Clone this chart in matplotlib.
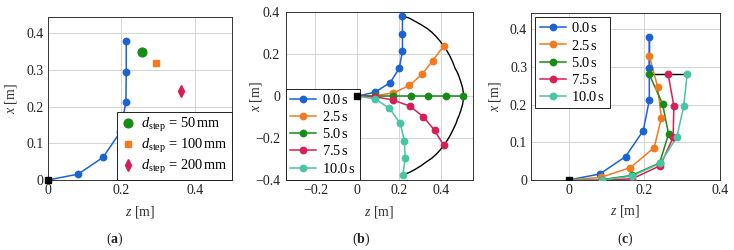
import matplotlib
matplotlib.use("Agg")
import matplotlib.pyplot as plt
from matplotlib.lines import Line2D

plt.rcParams['font.family'] = ['Liberation Serif', 'DejaVu Serif']
plt.rcParams['mathtext.fontset'] = 'custom'
plt.rcParams['mathtext.rm'] = 'Liberation Serif'
plt.rcParams['mathtext.it'] = 'Liberation Serif:italic'
plt.rcParams['mathtext.bf'] = 'Liberation Serif:bold'
plt.rcParams['axes.unicode_minus'] = True

# ---------------- data ----------------
times = ["0.0", "2.5", "5.0", "7.5", "10.0"]
colors = ['#1a62d6', '#f47a1f', '#168c16', '#d81e54', '#46c6a4']

# panel (a): reference curve (0.0 s) and step-size targets
a_z = [0.0, 0.082, 0.150, 0.196, 0.212, 0.213, 0.213]
a_x = [0.0, 0.016, 0.062, 0.130, 0.212, 0.296, 0.380]
step_labels = ["50", "100", "200"]
step_z = [0.257, 0.295, 0.362]
step_x = [0.350, 0.320, 0.243]

# panel (b): joint positions at different times
b_z = [
    [0.0, 0.084, 0.156, 0.200, 0.215, 0.215, 0.215],
    [0.0, 0.085, 0.172, 0.248, 0.309, 0.360, 0.411],
    [0.0, 0.085, 0.170, 0.254, 0.338, 0.422, 0.506],
    [0.0, 0.085, 0.169, 0.249, 0.315, 0.368, 0.411],
    [0.0, 0.084, 0.153, 0.204, 0.224, 0.228, 0.217],
]
b_x = [
    [0.0, 0.019, 0.064, 0.133, 0.216, 0.298, 0.383],
    [0.0, 0.003, 0.015, 0.051, 0.105, 0.170, 0.239],
    [0.0, 0.0, 0.0, 0.0, 0.0, 0.0, 0.0],
    [0.0, -0.003, -0.018, -0.047, -0.098, -0.163, -0.233],
    [0.0, -0.013, -0.058, -0.129, -0.212, -0.296, -0.376],
]
b_tip_z = [0.215, 0.248, 0.275, 0.304, 0.331, 0.355, 0.375, 0.394, 0.411, 0.428, 0.442,
           0.455, 0.466, 0.477, 0.485, 0.492, 0.498, 0.502, 0.504, 0.506, 0.506,
           0.506, 0.504, 0.502, 0.498, 0.492, 0.485, 0.477, 0.471, 0.457, 0.443,
           0.428, 0.411, 0.394, 0.375, 0.355, 0.331, 0.304, 0.276, 0.248, 0.217]
b_tip_x = [0.383, 0.372, 0.357, 0.341, 0.324, 0.305, 0.285, 0.263, 0.239, 0.215, 0.190,
           0.162, 0.133, 0.113, 0.093, 0.073, 0.053, 0.039, 0.025, 0.012, 0.0,
           -0.012, -0.025, -0.039, -0.053, -0.073, -0.093, -0.111, -0.129, -0.159, -0.187,
           -0.212, -0.236, -0.258, -0.278, -0.296, -0.312, -0.332, -0.349, -0.364, -0.376]

# panel (c): joint positions at different times
c_z = [
    [0.0, 0.082, 0.150, 0.197, 0.213, 0.213, 0.213],
    [0.0, 0.085, 0.163, 0.226, 0.245, 0.235, 0.213],
    [0.0, 0.087, 0.166, 0.240, 0.264, 0.248, 0.213],
    [0.0, 0.087, 0.167, 0.242, 0.276, 0.278, 0.263],
    [0.0, 0.087, 0.166, 0.241, 0.286, 0.304, 0.313],
]
c_x = [
    [0.0, 0.016, 0.062, 0.131, 0.212, 0.296, 0.380],
    [0.0, 0.007, 0.033, 0.086, 0.165, 0.247, 0.330],
    [0.0, 0.001, 0.012, 0.045, 0.122, 0.202, 0.280],
    [0.0, 0.0, 0.003, 0.038, 0.113, 0.196, 0.280],
    [0.0, 0.0, 0.010, 0.044, 0.114, 0.196, 0.280],
]
c_tip_z = [0.213, 0.213, 0.313]
c_tip_x = [0.380, 0.280, 0.280]

a_xticks = [0, 0.2, 0.4]
a_xticklabels = ["0", "0.2", "0.4"]
a_yticks = [0, 0.1, 0.2, 0.3, 0.4]
a_yticklabels = ["0", "0.1", "0.2", "0.3", "0.4"]
b_xticks = [-0.2, 0, 0.2, 0.4]
b_xticklabels = ["\u22120.2", "0", "0.2", "0.4"]
b_yticks = [-0.4, -0.2, 0, 0.2, 0.4]
b_yticklabels = ["\u22120.4", "\u22120.2", "0", "0.2", "0.4"]
c_xticks = [0, 0.2, 0.4]
c_xticklabels = ["0", "0.2", "0.4"]
c_yticks = [0, 0.1, 0.2, 0.3, 0.4]
c_yticklabels = ["0", "0.1", "0.2", "0.3", "0.4"]

# ---------------- style ----------------
FS = 10
LFS = 10.4
W, H = 734, 250
fig = plt.figure(figsize=(W / 100, H / 100), dpi=100)

def px_axes(l, t, r, b):
    return fig.add_axes([l / W, (H - b) / H, (r - l) / W, (b - t) / H])

def style(ax, xticks, xtl, yticks, ytl, ypad):
    ax.set_xticks(xticks)
    ax.set_xticklabels(xtl)
    ax.set_yticks(yticks)
    ax.set_yticklabels(ytl)
    ax.tick_params(length=0, labelsize=FS, colors='#222222')
    ax.tick_params(axis='x', pad=3.0)
    ax.tick_params(axis='y', pad=ypad)
    ax.grid(True, color='#d4d4d4', linewidth=0.7)
    ax.set_axisbelow(True)
    for s in ax.spines.values():
        s.set_color('#333333')
        s.set_linewidth(0.7)
    ax.set_xlabel(r'$z$ [m]', fontsize=FS, color='#333333')
    ax.set_ylabel(r'$x$ [m]', fontsize=FS, color='#333333')

def frame(leg):
    leg.get_frame().set_edgecolor('#222222')
    leg.get_frame().set_linewidth(0.7)
    leg.get_frame().set_alpha(1)

LW = 1.1
MS = 4.6

# ---- (a)
axa = px_axes(48, 17, 231.7, 180)
axa.set_xlim(0, 0.5)
axa.set_ylim(0, 0.445)
style(axa, a_xticks, a_xticklabels, a_yticks, a_yticklabels, 3.2)
axa.plot(a_z, a_x, color=colors[0], lw=LW, zorder=3)
axa.plot(a_z[1:], a_x[1:], 'o', color=colors[0], ms=MS, zorder=4)
axa.plot([0], [0], 's', color='black', ms=5, zorder=6, clip_on=False)
step_markers = ['o', 's', 'd']
step_sizes = [6.3, 4.6, 5.8]
step_colors = [colors[2], colors[1], colors[3]]
for lab, zz, xx, m, ms, c in zip(step_labels, step_z, step_x, step_markers, step_sizes, step_colors):
    axa.plot([zz], [xx], m, color=c, ms=ms, linestyle='none', zorder=5,
             label=r'$d_{\mathrm{step}}\,=\,%s\,\mathrm{mm}$' % lab)
leg = axa.legend(loc='lower right', fontsize=LFS, frameon=True, fancybox=False,
                 borderaxespad=0, handlelength=1.0, handletextpad=0.35,
                 labelspacing=0.2, borderpad=0.3)
frame(leg)
axa.xaxis.set_label_coords(0.5, -0.195)
axa.xaxis.label.set_va('center')
axa.yaxis.set_label_coords((11 - 48) / 183.7, 0.5)
axa.yaxis.label.set_va('center')

# ---- (b)
axb = px_axes(285.7, 12.3, 473.3, 180)
axb.set_xlim(-0.342, 0.553)
axb.set_ylim(-0.4, 0.4)
style(axb, b_xticks, b_xticklabels, b_yticks, b_yticklabels, 4.0)
axb.plot(b_tip_z, b_tip_x, color='black', lw=1.0, zorder=2)
handles = []
for i in range(5):
    axb.plot(b_z[i], b_x[i], '-', color=colors[i], lw=LW, zorder=3)
    axb.plot(b_z[i][1:], b_x[i][1:], 'o', color=colors[i], ms=MS, zorder=4)
    handles.append(Line2D([], [], color=colors[i], lw=LW, marker='o', ms=MS,
                          label=r'$%s\,\mathrm{s}$' % times[i]))
axb.plot([0], [0], 's', color='black', ms=5, zorder=6)
leg = axb.legend(handles=handles, loc='lower left', fontsize=LFS, frameon=True,
                 fancybox=False, borderaxespad=0, handlelength=1.8, handletextpad=0.4,
                 labelspacing=0.22, borderpad=0.3)
frame(leg)
axb.xaxis.set_label_coords(0.5, (180 - 211.5) / 167.7)
axb.xaxis.label.set_va('center')
axb.yaxis.set_label_coords((255.7 - 285.7) / 187.6, 0.5)
axb.yaxis.label.set_va('center')

# ---- (c)
axc = px_axes(531, 12.7, 720, 180)
axc.set_xlim(-0.1, 0.4)
axc.set_ylim(0, 0.444)
style(axc, c_xticks, c_xticklabels, c_yticks, c_yticklabels, 2.7)
axc.plot(c_tip_z, c_tip_x, color='black', lw=1.0, zorder=2)
handles = []
for i in range(5):
    axc.plot(c_z[i], c_x[i], '-', color=colors[i], lw=LW, zorder=3)
    axc.plot(c_z[i][1:], c_x[i][1:], 'o', color=colors[i], ms=MS, zorder=4)
    handles.append(Line2D([], [], color=colors[i], lw=LW, marker='o', ms=MS,
                          label=r'$%s\,\mathrm{s}$' % times[i]))
axc.plot([0], [0], 's', color='black', ms=5, zorder=6)
leg = axc.legend(handles=handles, loc='upper left', fontsize=LFS, frameon=True,
                 fancybox=False, borderaxespad=0.3, handlelength=1.8, handletextpad=0.4,
                 labelspacing=0.22, borderpad=0.3)
frame(leg)
axc.xaxis.set_label_coords(0.5, (180 - 211) / 167.3)
axc.xaxis.label.set_va('center')
axc.yaxis.set_label_coords((495 - 531) / 189, 0.5)
axc.yaxis.label.set_va('center')

# panel captions
for lab, xc in zip(['a', 'b', 'c'], [115, 361.5, 625]):
    fig.text(xc / W, 1 - 239.5 / H, r'($\mathbf{%s}$)' % lab, ha='center', va='center',
             fontsize=FS, color='#222222')

fig.savefig('out.png', dpi=100)
